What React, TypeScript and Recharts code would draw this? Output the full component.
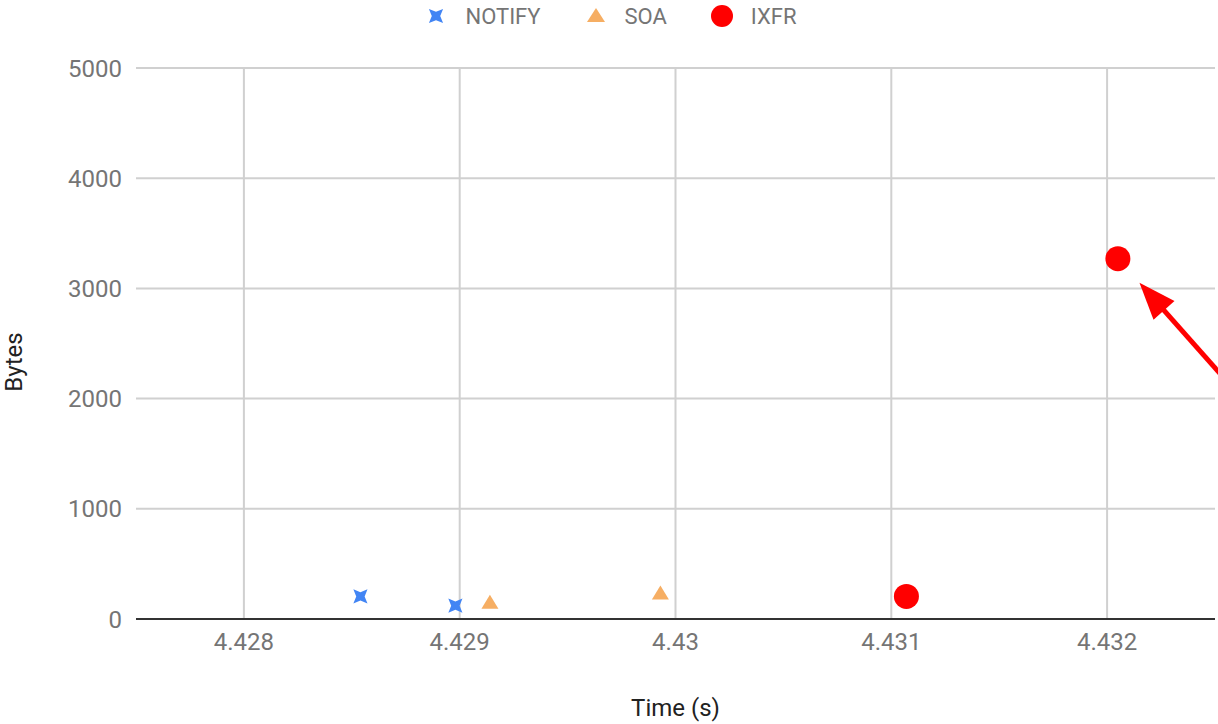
import React from 'react'
import {
  ScatterChart, Scatter, XAxis, YAxis, CartesianGrid, Legend, ReferenceLine, Label,
} from 'recharts'

// values (time in s, size in bytes)
const notifyTimes = [4.42854, 4.42898]
const notifyBytes = [205, 121]
const soaTimes = [4.42914, 4.42993]
const soaBytes = [151, 236]
const ixfrTimes = [4.43107, 4.43205]
const ixfrBytes = [205, 3270]

const xTicks = [4.428, 4.429, 4.43, 4.431, 4.432]
const yTicks = [0, 1000, 2000, 3000, 4000, 5000]

// annotation arrow, tail -> tip in data units
const arrowTail = { x: 4.43254, y: 2190 }
const arrowTip = { x: 4.43215, y: 3052 }

const zip = (xs: number[], ys: number[]) => xs.map((t, i) => ({ t, bytes: ys[i] }))
const notifyData = zip(notifyTimes, notifyBytes)
const soaData = zip(soaTimes, soaBytes)
const ixfrData = zip(ixfrTimes, ixfrBytes)

const BLUE = '#4285f4'
const ORANGE = '#f6ae63'
const RED = '#ff0000'
const GRID = '#d0d0d0'
const FONT = 'Roboto, "Noto Sans", sans-serif'

// tapered "x" marker like the one Google Charts draws
function xPath(cx: number, cy: number, r = 10, inner = 4.2) {
  const pts: string[] = []
  for (let k = 0; k < 8; k++) {
    const a = (Math.PI / 4) * k + Math.PI / 4
    const rr = k % 2 === 0 ? r : inner
    pts.push(`${cx + rr * Math.cos(a)},${cy + rr * Math.sin(a)}`)
  }
  return `M${pts.join('L')}Z`
}

const XShape = (p: any) => <path d={xPath(p.cx, p.cy)} fill={BLUE} />
const TriShape = (p: any) => (
  <path d={`M${p.cx},${p.cy - 7.5}L${p.cx + 8.5},${p.cy + 6.5}L${p.cx - 8.5},${p.cy + 6.5}Z`} fill={ORANGE} />
)
const DotShape = (p: any) => <circle cx={p.cx} cy={p.cy} r={12.5} fill={RED} />

function Arrow(p: any) {
  const { x1, y1, x2, y2 } = p
  const dx = x2 - x1
  const dy = y2 - y1
  const len = Math.hypot(dx, dy)
  const ux = dx / len
  const uy = dy / len
  const head = 37
  const half = 14
  const bx = x2 - ux * head
  const by = y2 - uy * head
  return (
    <g>
      <line x1={x1} y1={y1} x2={bx + ux * 4} y2={by + uy * 4} stroke={RED} strokeWidth={5} />
      <path
        d={`M${x2},${y2}L${bx - uy * half},${by + ux * half}L${bx + uy * half},${by - ux * half}Z`}
        fill={RED}
      />
    </g>
  )
}

function LegendContent() {
  const items = [
    { name: 'NOTIFY', mark: <path d={xPath(15, 15)} fill={BLUE} /> },
    { name: 'SOA', mark: <path d="M15,7L24,21L6,21Z" fill={ORANGE} /> },
    { name: 'IXFR', mark: <circle cx={15} cy={15} r={11} fill={RED} /> },
  ]
  return (
    <div style={{ display: 'flex', justifyContent: 'center', fontFamily: FONT, fontSize: 22, color: '#757575' }}>
      {items.map((it) => (
        <div key={it.name} style={{ display: 'flex', alignItems: 'center', margin: '0 20px' }}>
          <svg width={30} height={30} style={{ marginRight: 14 }}>{it.mark}</svg>
          <span>{it.name}</span>
        </div>
      ))}
    </div>
  )
}

const tickStyle = { fill: '#757575', fontSize: 24, fontFamily: FONT }

export default function App() {
  return (
    <div style={{ position: 'absolute', left: 0, top: 0, background: '#fff' }}>
      <ScatterChart width={1218} height={724} margin={{ top: 68, right: 3, bottom: 0, left: 0 }}>
        <CartesianGrid stroke={GRID} strokeWidth={2} vertical={false} />
        {xTicks.map((t) => (
          <ReferenceLine key={t} x={t} stroke={GRID} strokeWidth={2} />
        ))}
        <XAxis
          type="number" dataKey="t" domain={[4.4275, 4.4325]} ticks={xTicks}
          height={105} axisLine={{ stroke: '#333', strokeWidth: 2 }} tickLine={false}
          tick={tickStyle} tickMargin={8} allowDataOverflow
        >
          <Label value="Time (s)" position="insideBottom" offset={8}
            style={{ fill: '#222', fontSize: 24, fontFamily: FONT }} />
        </XAxis>
        <YAxis
          type="number" dataKey="bytes" domain={[0, 5000]} ticks={yTicks}
          width={136} axisLine={false} tickLine={false} tick={tickStyle} tickMargin={8}
        >
          <Label
            content={() => (
              <text x={22} y={362} transform="rotate(-90,22,362)" textAnchor="middle"
                style={{ fill: '#222', fontSize: 24, fontFamily: FONT }}>Bytes</text>
            )}
          />
        </YAxis>
        <Legend
          layout="horizontal" verticalAlign="middle" align="center"
          wrapperStyle={{ top: 1, left: 0, width: 1218 }}
          content={<LegendContent />}
        />
        <Scatter name="NOTIFY" data={notifyData} shape={XShape} isAnimationActive={false} />
        <Scatter name="SOA" data={soaData} shape={TriShape} isAnimationActive={false} />
        <Scatter name="IXFR" data={ixfrData} shape={DotShape} isAnimationActive={false} />
        <ReferenceLine
          segment={[arrowTail, arrowTip]} ifOverflow="visible" shape={Arrow}
        />
      </ScatterChart>
    </div>
  )
}
